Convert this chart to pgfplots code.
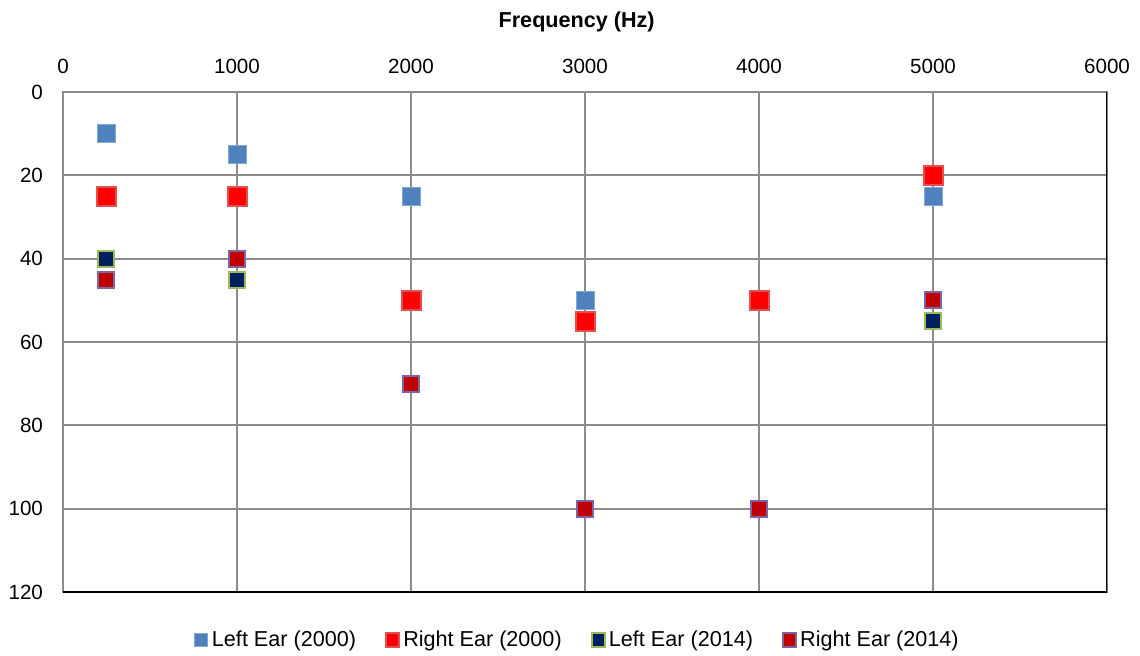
\documentclass[border=0pt]{standalone}
\usepackage{pgfplots}
\pgfplotsset{compat=1.18}
\usepackage{fontspec}
\setmainfont{Liberation Sans}
\definecolor{cblue}{HTML}{4F81BD}
\definecolor{cred}{HTML}{FF0000}
\definecolor{credb}{HTML}{E05050}
\definecolor{cnavy}{HTML}{002060}
\definecolor{cgreen}{HTML}{9BBB59}
\definecolor{cdred}{HTML}{C00000}
\definecolor{cpurp}{HTML}{8064A2}
\definecolor{cgrid}{HTML}{8C8C8C}
\begin{document}
\begin{tikzpicture}[x=0.5pt,y=0.5pt]
\path[use as bounding box] (-63,-63) rectangle (1077,592);
\begin{axis}[
  at={(0,0)}, anchor=south west,
  scale only axis, width=522pt, height=250pt,
  xmin=0, xmax=6000, ymin=0, ymax=120,
  y dir=reverse,
  xtick={0,1000,...,6000}, ytick={0,20,...,120},
  xticklabel pos=right,
  scaled x ticks=false,
  /pgf/number format/assume math mode=true,
  /pgf/number format/set thousands separator={},
  tick label style={font=\fontsize{10.3}{12}\selectfont},
  xticklabel style={yshift=5.5pt},
  yticklabel style={xshift=-6.5pt},
  major tick length=0pt,
  grid=major,
  major grid style={cgrid, line width=1pt},
  axis line style={cgrid, line width=1pt},
  every axis title shift=0pt,
  title={\textbf{Frequency (Hz)}},
  title style={font=\fontsize{10.8}{13}\selectfont, at={(axis description cs:0.492,1)}, anchor=center, yshift=35pt},
  legend style={at={(axis description cs:0.494,-0.096)}, anchor=center, draw=none, fill=none,
    legend columns=4, font=\fontsize{10.8}{13}\selectfont,
    /tikz/every even column/.append style={column sep=13pt}},
  legend image code/.code={\draw[#1, mark size=3.3pt] plot coordinates {(0pt,0pt)};},
  legend cell align=left,
]
\addplot[only marks, mark=square*, mark size=4.5pt, mark options={fill=cblue, draw=cblue!70!white, line width=0.5pt}]
  coordinates {(250,10) (1000,15) (2000,25) (3000,50) (4000,50) (5000,25)};
\addlegendentry{Left Ear (2000)}
\addplot[only marks, mark=square*, mark size=4.75pt, mark options={fill=cred, draw=credb, line width=1pt}]
  coordinates {(250,25) (1000,25) (2000,50) (3000,55) (4000,50) (5000,20)};
\addlegendentry{Right Ear (2000)}
\addplot[only marks, mark=square*, mark size=4pt, mark options={fill=cnavy, draw=cgreen, line width=1pt}]
  coordinates {(250,40) (1000,45) (2000,70) (3000,100) (4000,100) (5000,55)};
\addlegendentry{Left Ear (2014)}
\addplot[only marks, mark=square*, mark size=4pt, mark options={fill=cdred, draw=cpurp, line width=1pt}]
  coordinates {(250,45) (1000,40) (2000,70) (3000,100) (4000,100) (5000,50)};
\addlegendentry{Right Ear (2014)}
\draw[black, line width=1pt] (axis description cs:0,0) -- (axis description cs:1,0) -- (axis description cs:1,1);
\end{axis}
\end{tikzpicture}
\end{document}
